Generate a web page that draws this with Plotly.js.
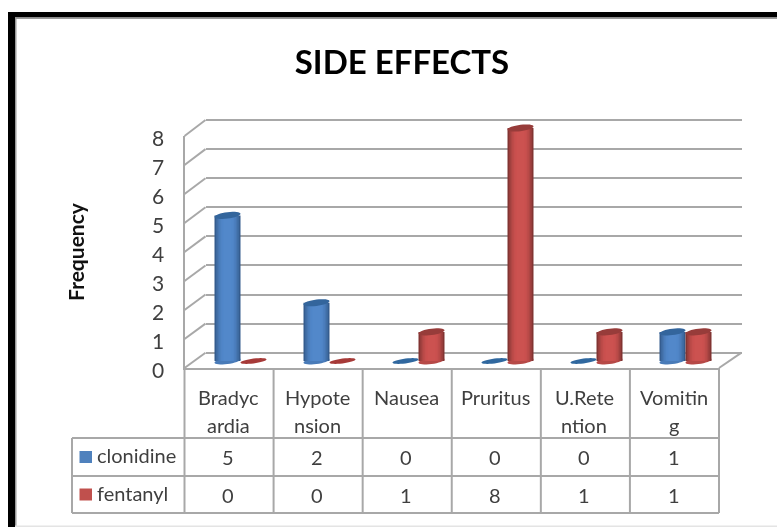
<!DOCTYPE html>
<html>
<head>
<meta charset="utf-8">
<script src="https://cdn.plot.ly/plotly-3.0.1.min.js"></script>
<style>html,body{margin:0;padding:0;background:#fff;overflow:hidden}#chart{width:777px;height:527px;filter:blur(0.45px)}</style>
</head>
<body>
<div id="chart"></div>
<script>
// ---- data ----
const categories = ["Bradycardia","Hypotension","Nausea","Pruritus","U.Retention","Vomiting"];
const categoryLines = [["Bradyc","ardia"],["Hypote","nsion"],["Nausea"],["Pruritus"],["U.Rete","ntion"],["Vomitin","g"]];
const seriesNames = ["clonidine","fentanyl"];
const clonidine = [5,2,0,0,0,1];
const fentanyl = [0,0,1,8,1,1];
const yTicks = [0,1,2,3,4,5,6,7,8];
const titleText = "SIDE EFFECTS";
const yTitleText = "Frequency";

// ---- style ----
const W = 777, H = 527;
const FONT = "Lato, 'Open Sans', sans-serif";
const TXT = "#3f3f3f", GRID = "#a8a8a8";
const palette = [
  {edge:[52,92,142], mid:[82,136,202], cap:"#33659c", flat:"#30689f"},
  {edge:[130,52,50], mid:[204,82,80], cap:"#973c3a", flat:"#a63a38"}
];
const px = v => v / W, py = v => 1 - v / H;
const dom = (top, bottom) => [py(bottom), py(top)];

// pixel frames of the pseudo 3D chart
const BAR_STEP = 89, BAR_W = 26;
const GROUP0 = 240.5, Y0_BAR = 361, UNIT = 29.125;
const barPadY = 0.4;
const wallPad = 0.2;
const wall = {l:205.5, r:741.5, t:120, b:352.7};
const front = {l:184.5, r:719, t:136, b:368};
const stepFront = (front.b - front.t) / 8, stepWall = (wall.b - wall.t) / 8;

const values = [clonidine, fentanyl];
const idx = categories.map((_, i) => i);
const bw = BAR_W / BAR_STEP;

const traces = [];
// wall subplot and front axis subplot carriers
traces.push({type:"scatter",x:[0],y:[0],xaxis:"x",yaxis:"y",mode:"markers",marker:{opacity:0},hoverinfo:"skip",showlegend:false});
traces.push({type:"scatter",x:[0],y:[0],xaxis:"x3",yaxis:"y3",mode:"markers",marker:{opacity:0},hoverinfo:"skip",showlegend:false});

const mix = (a,b,t) => "rgb(" + a.map((c,k)=>Math.round(c+(b[k]-c)*t)).join(",") + ")";
// nested bars, widest and darkest first, give the cylinder shading without seams
const LAYERS = 7;
values.forEach((vals, s) => {
  for (let k = 0; k < LAYERS; k++) {
    const inset = k / LAYERS * 0.42;         // share of the bar width cut from each side
    const shade = 1 - Math.pow(1 - k / (LAYERS - 1), 2.2);
    traces.push({
      type:"bar", name: seriesNames[s], x: idx, y: vals, xaxis:"x2", yaxis:"y2",
      offset: (s - 1) * bw + inset * bw,
      width: bw * (1 - 2 * inset),
      marker:{color: mix(palette[s].edge, palette[s].mid, shade), line:{width:0}},
      customdata: categories, hovertemplate:"%{customdata}: %{y}<extra>"+seriesNames[s]+"</extra>",
      showlegend:false
    });
  }
});

// tilted ellipse in data coordinates of the bar axes
function ellipsePath(cx, v, a, b, tilt) {
  let p = "";
  for (let i = 0; i < 32; i++) {
    const t = i / 32 * 2 * Math.PI;
    const dx = a * Math.cos(t), dy = b * Math.sin(t) + tilt * Math.cos(t);
    p += (i ? "L" : "M") + (cx + dx / BAR_STEP).toFixed(4) + " " + (v + dy / UNIT).toFixed(4);
  }
  return p + "Z";
}
const shapes = [];
values.forEach((vals, s) => vals.forEach((v, i) => {
  const cx = i + (s - 0.5) * bw;
  const pal = palette[s];
  if (v > 0) {
    shapes.push({type:"path",xref:"x2",yref:"y2",layer:"below",path:ellipsePath(cx,0,BAR_W/2,3,1.6),fillcolor:mix(pal.edge,pal.mid,0.7),line:{width:0}});
    shapes.push({type:"path",xref:"x2",yref:"y2",layer:"above",path:ellipsePath(cx,v,BAR_W/2,3.2,1.6),fillcolor:pal.cap,line:{width:0}});
  } else {
    shapes.push({type:"path",xref:"x2",yref:"y2",layer:"above",path:ellipsePath(cx,v,BAR_W/2,2.4,1.6),fillcolor:pal.flat,line:{width:0}});
  }
}));

const pline = (x0,y0,x1,y1,color=GRID,width=2) => ({type:"line",xref:"paper",yref:"paper",layer:"below",x0:px(x0),y0:py(y0),x1:px(x1),y1:py(y1),line:{color,width}});
const prect = (x0,y0,x1,y1,color) => ({type:"rect",xref:"paper",yref:"paper",layer:"below",x0:px(x0),y0:py(y0),x1:px(x1),y1:py(y1),fillcolor:color,line:{width:0}});

// outer black frame (open on the right side)
shapes.push(prect(8,12,777,17.5,"#000"), prect(8,12,15,527,"#000"), prect(15,17.5,777,19,"#9a9a9a"), prect(15,17.5,16.5,527,"#9a9a9a"));
shapes.push(prect(15,525.5,777,527,"#e4e4e4"));

// left wall slants, one per tick, and floor right edge
yTicks.forEach(t => shapes.push(pline(front.l, front.b - t*stepFront, wall.l, wall.b - t*stepWall)));
shapes.push(pline(front.r, front.b, wall.r, wall.b));

// data table grid
const colW = (front.r - front.l) / categories.length;
const rows = [438, 476, 513], tableL = 72;
categories.concat([""]).forEach((_, i) => shapes.push(pline(front.l + i*colW, front.b, front.l + i*colW, rows[2])));
rows.forEach(y => shapes.push(pline(tableL, y, front.r, y)));
shapes.push(pline(tableL, rows[0], tableL, rows[2]));
// legend keys
palette.forEach((p, s) => {
  const yc = (rows[s] + rows[s+1]) / 2;
  shapes.push(prect(79.5, yc-6, 92, yc+6, s ? "#C0504D" : "#4F81BD"));
});

// table text
const TABLE_SIZE = 20;
const annotations = [];
const note = (text,xref,x,y,size,anchor="center") => ({text,xref,yref:"paper",x,y:py(y),xanchor:anchor,yanchor:"middle",showarrow:false,font:{family:FONT,size,color:TXT}});
categoryLines.forEach((lines,i) => lines.forEach((l,k) => annotations.push(note(l,"x3",i-0.01,397+k*28,TABLE_SIZE))));
values.forEach((vals,s) => {
  const yc = (rows[s] + rows[s+1]) / 2 - 1;
  annotations.push(note(seriesNames[s],"paper",px(95),yc-1,TABLE_SIZE,"left"));
  vals.forEach((v,i) => annotations.push(note(String(v),"x3",i-0.01,yc+1,TABLE_SIZE)));
});

const layout = {
  width:W, height:H, showlegend:false, barmode:"overlay",
  paper_bgcolor:"#fff", plot_bgcolor:"rgba(0,0,0,0)",
  margin:{l:0,r:0,t:0,b:0},
  title:{text:"<b>"+titleText+"</b>", x:402/W, xanchor:"center", y:py(62), yanchor:"middle", font:{family:FONT,size:33,color:"#000"}},
  // back wall with the gridlines
  xaxis:{domain:[px(wall.l),px(wall.r)],range:[0,1],visible:false,anchor:"y",fixedrange:true},
  yaxis:{domain:dom(wall.t-wallPad*stepWall,wall.b+wallPad*stepWall),range:[-wallPad,8+wallPad],anchor:"x",tickmode:"array",tickvals:yTicks,showticklabels:false,ticks:"",showgrid:true,gridcolor:GRID,gridwidth:2,zeroline:false,showline:false,fixedrange:true},
  // bars
  xaxis2:{domain:[px(GROUP0-BAR_STEP/2),px(GROUP0+BAR_STEP*5.5)],range:[-0.5,5.5],visible:false,anchor:"y2",fixedrange:true},
  yaxis2:{domain:dom(Y0_BAR-UNIT*(8+barPadY),Y0_BAR+UNIT*barPadY),range:[-barPadY,8+barPadY],visible:false,anchor:"x2",fixedrange:true},
  // front axes with tick labels
  xaxis3:{domain:[px(front.l),px(front.r)],range:[-0.5,5.5],anchor:"y3",showticklabels:false,ticks:"",showgrid:false,zeroline:false,showline:true,linecolor:GRID,linewidth:2,fixedrange:true},
  yaxis3:{domain:dom(front.t,front.b),range:[0,8],anchor:"x3",tickmode:"array",tickvals:yTicks,ticks:"",ticklabelstandoff:14,ticklabelshift:3,showgrid:false,zeroline:false,showline:true,linecolor:GRID,linewidth:2,
    tickfont:{family:FONT,size:21,color:TXT},
    title:{text:"<b>"+yTitleText+"</b>",standoff:62,font:{family:FONT,size:21,color:"#111"}},fixedrange:true},
  shapes, annotations
};
Plotly.newPlot("chart", traces, layout, {displayModeBar:false, responsive:false});
</script>
</body>
</html>
